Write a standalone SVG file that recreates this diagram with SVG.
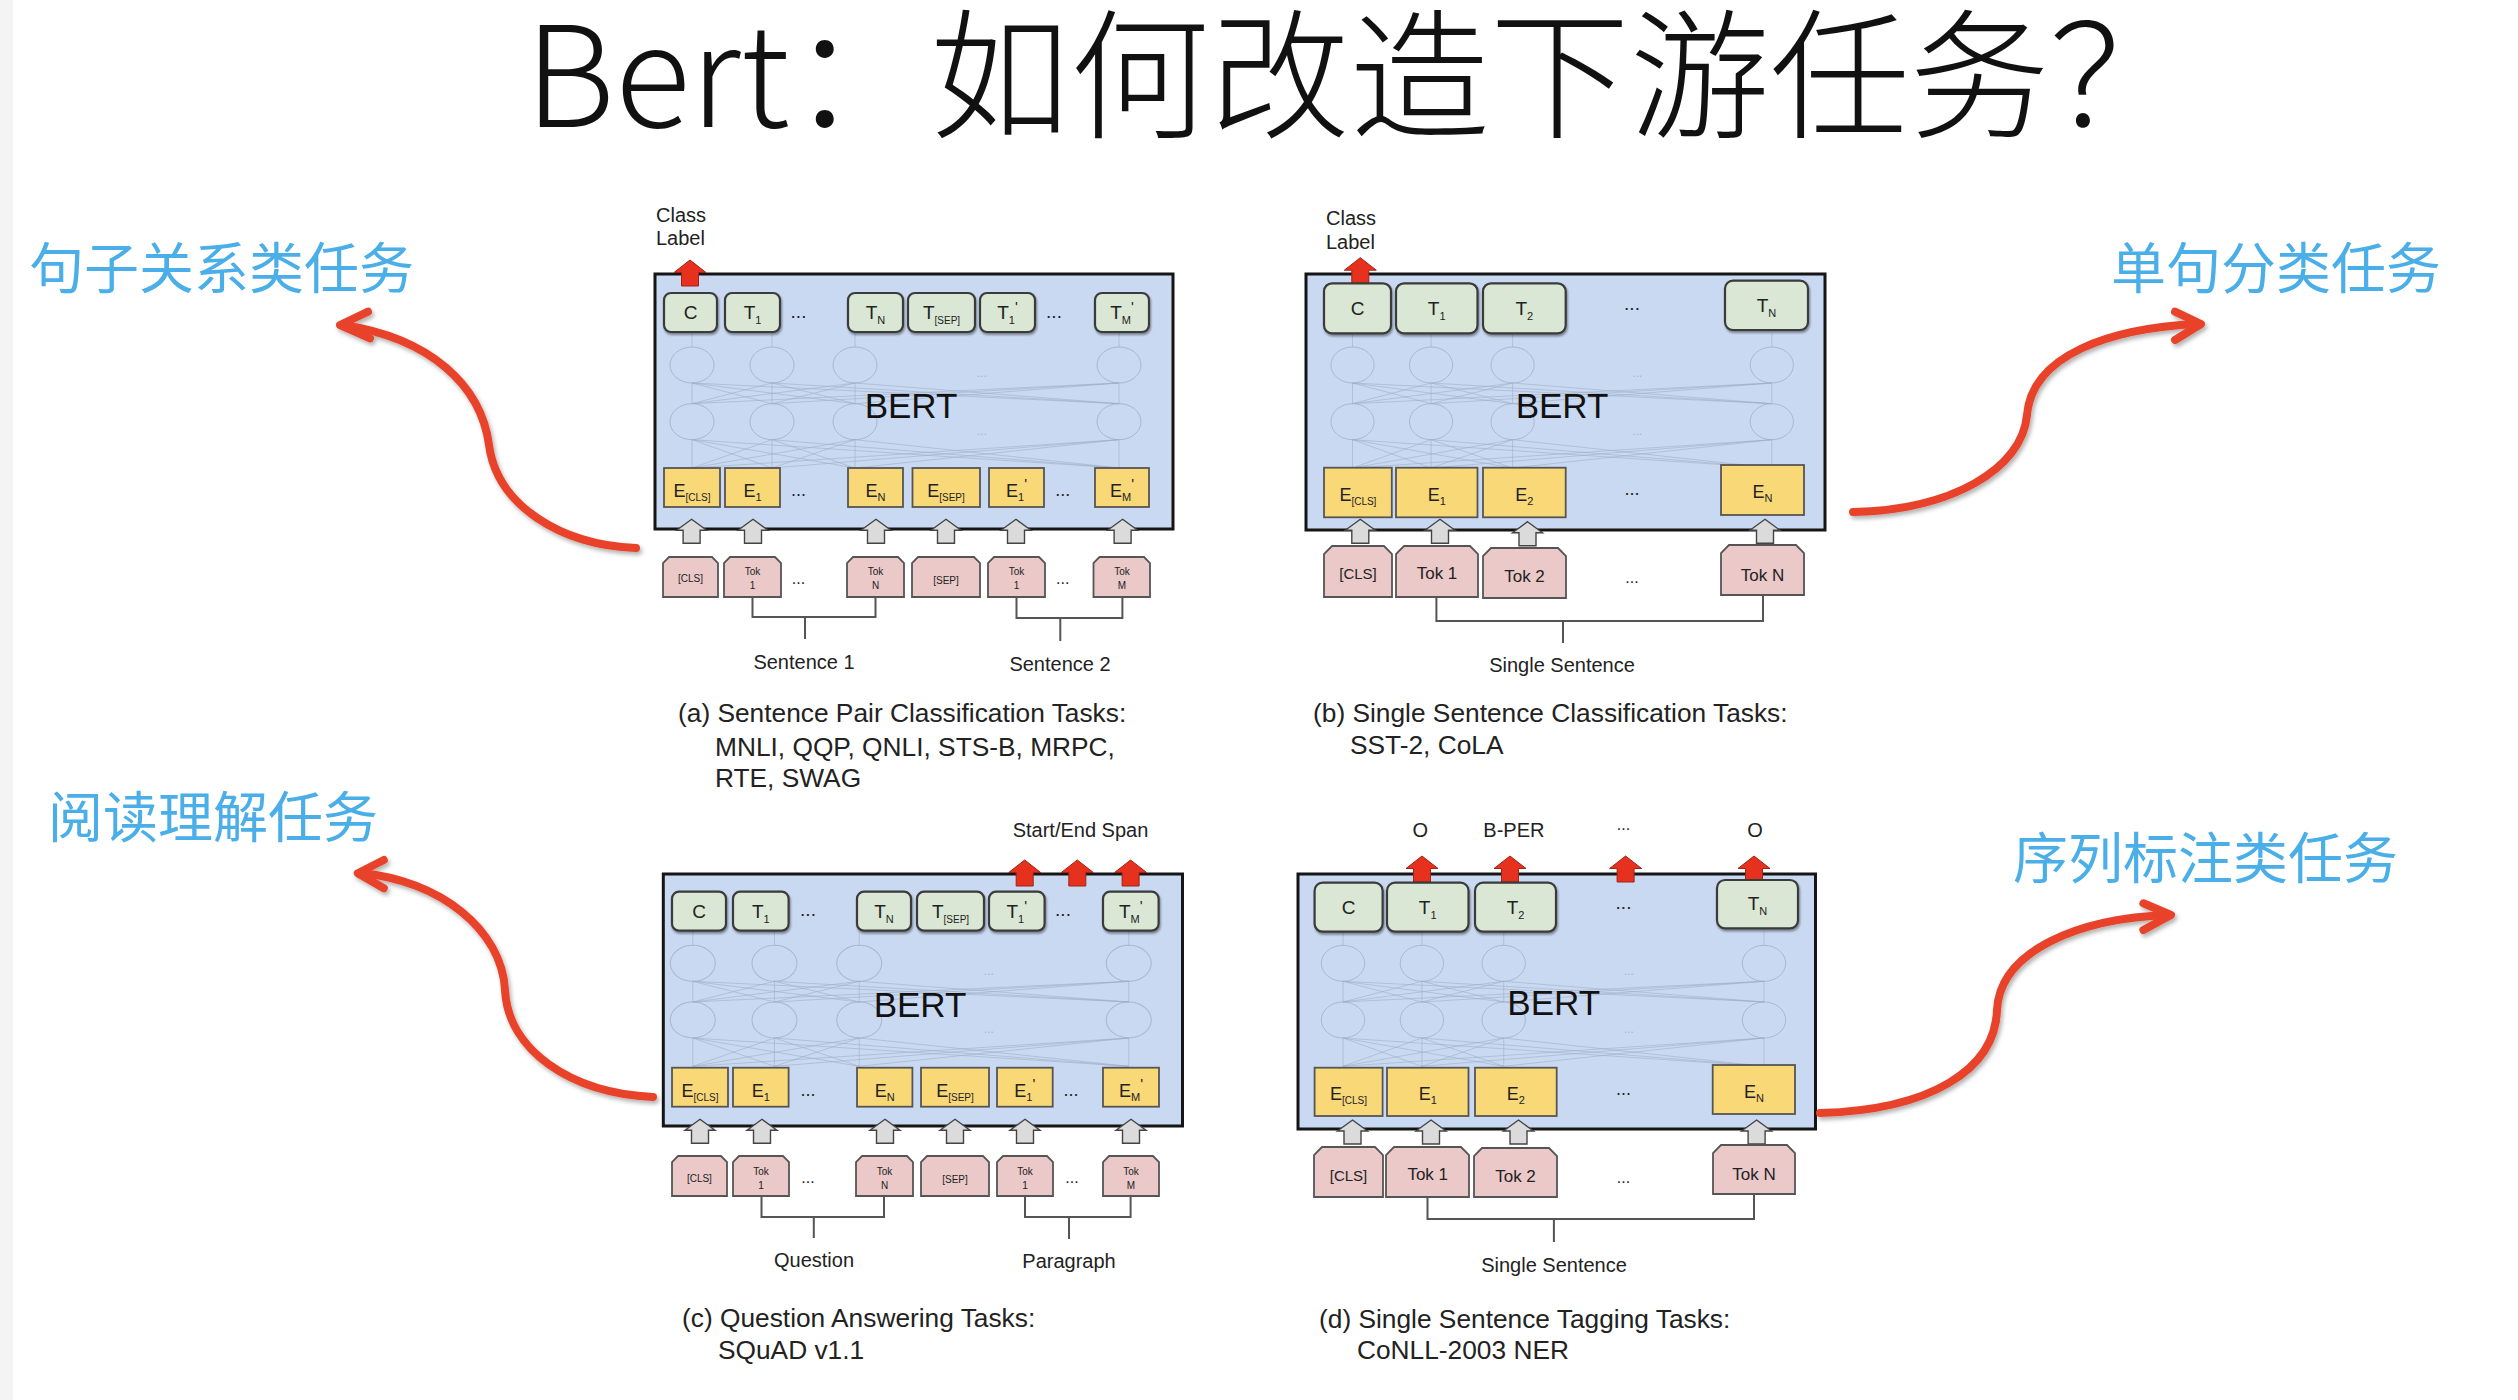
<svg xmlns="http://www.w3.org/2000/svg" xmlns:xlink="http://www.w3.org/1999/xlink" width="2518" height="1400" viewBox="0 0 2518 1400">
<style>
.bert{fill:#C9D9F2;stroke:#151515;stroke-width:3}
.gb{fill:#DAE7D4;stroke:#3a3a3a;stroke-width:2.2}
.yb{fill:#F9D878;stroke:#555;stroke-width:1.8}
.pb{fill:#EBC9C9;stroke:#555;stroke-width:1.8}
.ga{fill:#DBDBDB;stroke:#444;stroke-width:1.4}
.ra{fill:#E5311E;stroke:#a02414;stroke-width:1}
.el{fill:none;stroke:#aab6cd;stroke-width:1}
.nl{fill:none;stroke:#9eabc4;stroke-width:0.8;opacity:0.7}
.t{font-family:"Liberation Sans",Arial,sans-serif;fill:#222}
.bx{font-size:19px;text-anchor:middle}
.ex{font-size:18px;text-anchor:middle}
.sm{font-size:10px;text-anchor:middle}
.tk{font-size:17px;text-anchor:middle}
.lb{font-size:20px}
.mid{text-anchor:middle}
.cap{font-size:26.3px}
.bt{font-size:35px;text-anchor:middle;fill:#111}
.cn{font-family:"Noto Sans CJK SC",sans-serif;fill:#4AAEE8;font-size:55px}
.br{fill:none;stroke:#555;stroke-width:2}
.cv{fill:none;stroke:#E8432A;stroke-width:8;stroke-linecap:round;stroke-linejoin:round}
</style>
<defs>
<filter id="sh" x="-20%" y="-20%" width="140%" height="160%"><feDropShadow dx="1" dy="2" stdDeviation="1" flood-color="#000" flood-opacity="0.4"/></filter>
<filter id="cs" x="-10%" y="-10%" width="120%" height="120%"><feDropShadow dx="2" dy="3" stdDeviation="2" flood-color="#000" flood-opacity="0.3"/></filter>
<path id="redA" class="ra" d="M0 0 L16 12.5 L8.5 12.5 L8.5 26 L-8.5 26 L-8.5 12.5 L-16 12.5 Z"/>
<path id="grayA" class="ga" d="M0 0 L15 11 L8.5 11 L8.5 24 L-8.5 24 L-8.5 11 L-15 11 Z"/>
<g id="net">
<ellipse class="el" cx="0" cy="0" rx="22" ry="18"/><ellipse class="el" cx="80" cy="0" rx="22" ry="18"/><ellipse class="el" cx="163" cy="0" rx="22" ry="18"/><ellipse class="el" cx="427" cy="0" rx="22" ry="18"/>
<ellipse class="el" cx="0" cy="56.7" rx="22" ry="18"/><ellipse class="el" cx="80" cy="56.7" rx="22" ry="18"/><ellipse class="el" cx="163" cy="56.7" rx="22" ry="18"/><ellipse class="el" cx="427" cy="56.7" rx="22" ry="18"/>
<path class="nl" d="M0 -18V-32M80 -18V-32M163 -18V-32M427 -18V-32
M0 38.7L0 18M0 38.7L80 18M0 38.7L163 18M0 38.7L427 18M80 38.7L0 18M80 38.7L80 18M80 38.7L163 18M80 38.7L427 18M163 38.7L0 18M163 38.7L80 18M163 38.7L163 18M163 38.7L427 18M427 38.7L0 18M427 38.7L80 18M427 38.7L163 18M427 38.7L427 18
M0 103L0 74.7M0 103L80 74.7M0 103L163 74.7M0 103L427 74.7M80 103L0 74.7M80 103L80 74.7M80 103L163 74.7M80 103L427 74.7M163 103L0 74.7M163 103L80 74.7M163 103L163 74.7M163 103L427 74.7M427 103L0 74.7M427 103L80 74.7M427 103L163 74.7M427 103L427 74.7"/>
<text class="t" x="290" y="12" font-size="12" text-anchor="middle" style="fill:#a9b3c8">...</text>
<text class="t" x="290" y="70" font-size="12" text-anchor="middle" style="fill:#a9b3c8">...</text>
</g>
</defs>
<rect width="2518" height="1400" fill="#ffffff"/>
<rect x="0" y="0" width="13" height="1400" fill="#f4f4f4"/>

<g id="title"><text x="525" y="127" font-family="'Noto Sans CJK SC',sans-serif" font-weight="300" font-size="140" fill="#111">Bert：如何改造下游任务？</text></g>

<g id="label-a"><text class="cn" x="29" y="288">句子关系类任务</text></g>
<g id="label-b"><text class="cn" x="2111" y="288">单句分类任务</text></g>
<g id="label-c"><text class="cn" x="48" y="837">阅读理解任务</text></g>
<g id="label-d"><text class="cn" x="2013" y="878">序列标注类任务</text></g>

<!-- Panel A -->
<g id="panel-a">
<g id="a-bert"><rect class="bert" x="655" y="274" width="518" height="255"/>
<use xlink:href="#net" transform="translate(692,365)"/>
<text class="t bt" x="911" y="418">BERT</text></g>
<g id="a-classlabel"><text class="t lb" x="656" y="222">Class</text><text class="t lb" x="656" y="245">Label</text><use xlink:href="#redA" x="690" y="260"/></g>
<g id="a-out" filter="url(#sh)">
<rect class="gb" x="664" y="293" width="53" height="39" rx="7"/><rect class="gb" x="725" y="293" width="55" height="39" rx="7"/><rect class="gb" x="848" y="293" width="55" height="39" rx="7"/><rect class="gb" x="908" y="293" width="67" height="39" rx="7"/><rect class="gb" x="980" y="293" width="55" height="39" rx="7"/><rect class="gb" x="1095" y="293" width="54" height="39" rx="7"/></g>
<g id="a-out-text">
<text class="t bx" x="690.5" y="319">C</text>
<text class="t bx" x="752.5" y="319">T<tspan font-size="11" dy="5">1</tspan></text>
<text class="t bx" x="798.5" y="318" font-size="16">...</text>
<text class="t bx" x="875.5" y="319">T<tspan font-size="11" dy="5">N</tspan></text>
<text class="t bx" x="941.5" y="319">T<tspan font-size="10" dy="5">[SEP]</tspan></text>
<text class="t bx" x="1007.5" y="319">T<tspan font-size="11" dy="5">1</tspan><tspan font-size="15" dy="-12">'</tspan></text>
<text class="t bx" x="1054" y="318" font-size="16">...</text>
<text class="t bx" x="1122" y="319">T<tspan font-size="11" dy="5">M</tspan><tspan font-size="15" dy="-12">'</tspan></text></g>
<g id="a-emb">
<rect class="yb" x="664" y="468" width="56" height="39"/><rect class="yb" x="725" y="468" width="55" height="39"/><rect class="yb" x="848" y="468" width="55" height="39"/><rect class="yb" x="912.5" y="468" width="67.5" height="39"/><rect class="yb" x="989" y="468" width="55" height="39"/><rect class="yb" x="1095" y="468" width="54" height="39"/>
<text class="t ex" x="692" y="497">E<tspan font-size="10" dy="4">[CLS]</tspan></text>
<text class="t ex" x="752.5" y="497">E<tspan font-size="11" dy="4">1</tspan></text>
<text class="t ex" x="798.5" y="496" font-size="16">...</text>
<text class="t ex" x="875.5" y="497">E<tspan font-size="11" dy="4">N</tspan></text>
<text class="t ex" x="946" y="497">E<tspan font-size="10" dy="4">[SEP]</tspan></text>
<text class="t ex" x="1016.5" y="497">E<tspan font-size="11" dy="4">1</tspan><tspan font-size="15" dy="-12">'</tspan></text>
<text class="t ex" x="1062.7" y="496" font-size="16">...</text>
<text class="t ex" x="1122" y="497">E<tspan font-size="11" dy="4">M</tspan><tspan font-size="15" dy="-12">'</tspan></text></g>
<g id="a-arrows"><use xlink:href="#grayA" x="691.6" y="519.3"/><use xlink:href="#grayA" x="753" y="519.3"/><use xlink:href="#grayA" x="876" y="519.3"/><use xlink:href="#grayA" x="946" y="519.3"/><use xlink:href="#grayA" x="1016" y="519.3"/><use xlink:href="#grayA" x="1122.6" y="519.3"/></g>
<g id="a-tok">
<path class="pb" d="M663 597V563L669 557H712L718 563V597Z"/><path class="pb" d="M724 597V563L730 557H775L781 563V597Z"/><path class="pb" d="M847 597V563L853 557H898L904 563V597Z"/><path class="pb" d="M912 597V563L918 557H974L980 563V597Z"/><path class="pb" d="M988 597V563L994 557H1039L1045 563V597Z"/><path class="pb" d="M1093.5 597V563L1099.5 557H1144L1150 563V597Z"/>
<text class="t sm" x="690.5" y="582">[CLS]</text>
<text class="t sm" x="752.5" y="575">Tok</text><text class="t sm" x="752.5" y="589">1</text>
<text class="t mid" x="798.5" y="584" font-size="16">...</text>
<text class="t sm" x="875.5" y="575">Tok</text><text class="t sm" x="875.5" y="589">N</text>
<text class="t sm" x="946" y="584">[SEP]</text>
<text class="t sm" x="1016.5" y="575">Tok</text><text class="t sm" x="1016.5" y="589">1</text>
<text class="t mid" x="1062.7" y="584" font-size="16">...</text>
<text class="t sm" x="1122" y="575">Tok</text><text class="t sm" x="1122" y="589">M</text></g>
<g id="a-text">
<text class="t lb mid" x="804" y="669">Sentence 1</text>
<text class="t lb mid" x="1060" y="671">Sentence 2</text>
<text class="t cap" x="678" y="722">(a) Sentence Pair Classification Tasks:</text>
<text class="t cap" x="715" y="756">MNLI, QQP, QNLI, STS-B, MRPC,</text>
<text class="t cap" x="715" y="787">RTE, SWAG</text></g>
</g>

<!-- Panel B -->
<g id="panel-b">
<g id="b-bert"><rect class="bert" x="1306" y="274" width="519" height="256"/>
<use xlink:href="#net" transform="translate(1352.5,365) scale(0.982,1)"/>
<text class="t bt" x="1562" y="418">BERT</text></g>
<g id="b-classlabel"><text class="t lb" x="1326" y="225">Class</text><text class="t lb" x="1326" y="249">Label</text><use xlink:href="#redA" x="1360.3" y="257.7"/></g>
<g id="b-out" filter="url(#sh)">
<rect class="gb" x="1324" y="283.3" width="67" height="50" rx="8"/><rect class="gb" x="1396" y="283.3" width="81.5" height="50" rx="8"/><rect class="gb" x="1483" y="283.3" width="82.7" height="50" rx="8"/><rect class="gb" x="1725" y="280.7" width="83" height="49.3" rx="8"/></g>
<g id="b-out-text">
<text class="t bx" x="1357.5" y="315">C</text>
<text class="t bx" x="1436.7" y="315">T<tspan font-size="11" dy="5">1</tspan></text>
<text class="t bx" x="1524.3" y="315">T<tspan font-size="11" dy="5">2</tspan></text>
<text class="t bx" x="1632" y="310" font-size="16">...</text>
<text class="t bx" x="1766.5" y="312">T<tspan font-size="11" dy="5">N</tspan></text></g>
<g id="b-emb">
<rect class="yb" x="1324" y="467.7" width="67.8" height="49.6"/><rect class="yb" x="1396" y="467.7" width="81.5" height="49.6"/><rect class="yb" x="1483" y="467.7" width="82.7" height="49.6"/><rect class="yb" x="1721" y="465" width="83" height="50"/>
<text class="t ex" x="1357.9" y="501">E<tspan font-size="10" dy="4">[CLS]</tspan></text>
<text class="t ex" x="1436.7" y="501">E<tspan font-size="11" dy="4">1</tspan></text>
<text class="t ex" x="1524.3" y="501">E<tspan font-size="11" dy="4">2</tspan></text>
<text class="t ex" x="1632" y="495" font-size="16">...</text>
<text class="t ex" x="1762.5" y="498">E<tspan font-size="11" dy="4">N</tspan></text></g>
<g id="b-arrows"><use xlink:href="#grayA" x="1360.3" y="519.3"/><use xlink:href="#grayA" x="1440" y="519.3"/><use xlink:href="#grayA" x="1527.5" y="521.7"/><use xlink:href="#grayA" x="1765" y="519.3"/></g>
<g id="b-tok">
<path class="pb" d="M1324 597V554L1332 546H1384L1392 554V597Z"/><path class="pb" d="M1396 597V554L1404 546H1470L1478 554V597Z"/><path class="pb" d="M1483 598V556L1491 548H1558L1566 556V598Z"/><path class="pb" d="M1721 595V553L1729 545H1796L1804 553V595Z"/>
<text class="t mid" font-size="15" x="1358" y="579">[CLS]</text>
<text class="t tk" x="1437" y="579">Tok 1</text>
<text class="t tk" x="1524.5" y="582">Tok 2</text>
<text class="t mid" x="1632" y="583" font-size="16">...</text>
<text class="t tk" x="1762.5" y="581">Tok N</text></g>
<g id="b-text">
<text class="t lb mid" x="1562" y="672">Single Sentence</text>
<text class="t cap" x="1313" y="722">(b) Single Sentence Classification Tasks:</text>
<text class="t cap" x="1350" y="754">SST-2, CoLA</text></g>
</g>

<!-- Panel C -->
<g id="panel-c">
<g id="c-bert"><rect class="bert" x="663.3" y="874" width="519.2" height="252"/>
<use xlink:href="#net" transform="translate(692.8,963.3) scale(1.021,1)"/>
<text class="t bt" x="920" y="1017">BERT</text></g>
<g id="c-span"><text class="t lb mid" x="1080.5" y="837">Start/End Span</text>
<use xlink:href="#redA" x="1024.7" y="860"/><use xlink:href="#redA" x="1077.3" y="860"/><use xlink:href="#redA" x="1130.6" y="860"/></g>
<g id="c-out" filter="url(#sh)">
<rect class="gb" x="672" y="891.7" width="54" height="39" rx="7"/><rect class="gb" x="733" y="891.7" width="55.6" height="39" rx="7"/><rect class="gb" x="857" y="891.7" width="54" height="39" rx="7"/><rect class="gb" x="917" y="891.7" width="67" height="39" rx="7"/><rect class="gb" x="989" y="891.7" width="55.6" height="39" rx="7"/><rect class="gb" x="1103" y="891.7" width="55.6" height="39" rx="7"/></g>
<g id="c-out-text">
<text class="t bx" x="699" y="917.5">C</text>
<text class="t bx" x="760.8" y="917.5">T<tspan font-size="11" dy="5">1</tspan></text>
<text class="t bx" x="808" y="916" font-size="16">...</text>
<text class="t bx" x="884" y="917.5">T<tspan font-size="11" dy="5">N</tspan></text>
<text class="t bx" x="950.5" y="917.5">T<tspan font-size="10" dy="5">[SEP]</tspan></text>
<text class="t bx" x="1016.8" y="917.5">T<tspan font-size="11" dy="5">1</tspan><tspan font-size="15" dy="-12">'</tspan></text>
<text class="t bx" x="1063" y="916" font-size="16">...</text>
<text class="t bx" x="1130.8" y="917.5">T<tspan font-size="11" dy="5">M</tspan><tspan font-size="15" dy="-12">'</tspan></text></g>
<g id="c-emb">
<rect class="yb" x="672" y="1067.7" width="56" height="39"/><rect class="yb" x="733" y="1067.7" width="55.6" height="39"/><rect class="yb" x="857" y="1067.7" width="55.4" height="39"/><rect class="yb" x="921" y="1067.7" width="68" height="39"/><rect class="yb" x="997" y="1067.7" width="55.7" height="39"/><rect class="yb" x="1103" y="1067.7" width="56" height="39"/>
<text class="t ex" x="700" y="1097">E<tspan font-size="10" dy="4">[CLS]</tspan></text>
<text class="t ex" x="760.8" y="1097">E<tspan font-size="11" dy="4">1</tspan></text>
<text class="t ex" x="808" y="1096" font-size="16">...</text>
<text class="t ex" x="884.7" y="1097">E<tspan font-size="11" dy="4">N</tspan></text>
<text class="t ex" x="955" y="1097">E<tspan font-size="10" dy="4">[SEP]</tspan></text>
<text class="t ex" x="1024.8" y="1097">E<tspan font-size="11" dy="4">1</tspan><tspan font-size="15" dy="-12">'</tspan></text>
<text class="t ex" x="1071" y="1096" font-size="16">...</text>
<text class="t ex" x="1131" y="1097">E<tspan font-size="11" dy="4">M</tspan><tspan font-size="15" dy="-12">'</tspan></text></g>
<g id="c-arrows"><use xlink:href="#grayA" x="700" y="1119.3"/><use xlink:href="#grayA" x="762" y="1119.3"/><use xlink:href="#grayA" x="885" y="1119.3"/><use xlink:href="#grayA" x="955" y="1119.3"/><use xlink:href="#grayA" x="1025" y="1119.3"/><use xlink:href="#grayA" x="1131" y="1119.3"/></g>
<g id="c-tok">
<path class="pb" d="M672 1196V1162L678 1156H721L727 1162V1196Z"/><path class="pb" d="M733 1196V1162L739 1156H783L789 1162V1196Z"/><path class="pb" d="M856 1196V1162L862 1156H907L913 1162V1196Z"/><path class="pb" d="M921 1196V1162L927 1156H983L989 1162V1196Z"/><path class="pb" d="M997 1196V1162L1003 1156H1047L1053 1162V1196Z"/><path class="pb" d="M1103 1196V1162L1109 1156H1153L1159 1162V1196Z"/>
<text class="t sm" x="699.4" y="1181.7">[CLS]</text>
<text class="t sm" x="761" y="1174.5">Tok</text><text class="t sm" x="761" y="1188.5">1</text>
<text class="t mid" x="808" y="1183" font-size="16">...</text>
<text class="t sm" x="884.5" y="1174.5">Tok</text><text class="t sm" x="884.5" y="1188.5">N</text>
<text class="t sm" x="955" y="1183">[SEP]</text>
<text class="t sm" x="1025" y="1174.5">Tok</text><text class="t sm" x="1025" y="1188.5">1</text>
<text class="t mid" x="1072" y="1183" font-size="16">...</text>
<text class="t sm" x="1131" y="1174.5">Tok</text><text class="t sm" x="1131" y="1188.5">M</text></g>
<g id="c-text">
<text class="t lb mid" x="814" y="1267">Question</text>
<text class="t lb mid" x="1069" y="1268">Paragraph</text>
<text class="t cap" x="682" y="1327">(c) Question Answering Tasks:</text>
<text class="t cap" x="718" y="1359">SQuAD v1.1</text></g>
</g>

<!-- Panel D -->
<g id="panel-d">
<g id="d-bert"><rect class="bert" x="1298" y="874" width="517.5" height="255"/>
<use xlink:href="#net" transform="translate(1343,963.3) scale(0.986,1)"/>
<text class="t bt" x="1553.7" y="1015">BERT</text></g>
<g id="d-tags"><text class="t lb mid" x="1420.3" y="837">O</text><text class="t lb mid" x="1513.9" y="837">B-PER</text><text class="t mid" font-size="16" x="1623.5" y="830">...</text><text class="t lb mid" x="1755" y="837">O</text>
<use xlink:href="#redA" x="1422" y="856"/><use xlink:href="#redA" x="1510" y="856"/><use xlink:href="#redA" x="1625.6" y="856"/><use xlink:href="#redA" x="1754" y="856"/></g>
<g id="d-out" filter="url(#sh)">
<rect class="gb" x="1314.6" y="882.7" width="68" height="49" rx="8"/><rect class="gb" x="1387" y="882.7" width="81.5" height="49" rx="8"/><rect class="gb" x="1475" y="882.7" width="81" height="49" rx="8"/><rect class="gb" x="1717" y="880" width="81" height="48.3" rx="8"/></g>
<g id="d-out-text">
<text class="t bx" x="1348.5" y="913.5">C</text>
<text class="t bx" x="1427.7" y="913.5">T<tspan font-size="11" dy="5">1</tspan></text>
<text class="t bx" x="1515.5" y="913.5">T<tspan font-size="11" dy="5">2</tspan></text>
<text class="t bx" x="1623.5" y="909" font-size="16">...</text>
<text class="t bx" x="1757.5" y="910">T<tspan font-size="11" dy="5">N</tspan></text></g>
<g id="d-emb">
<rect class="yb" x="1314.6" y="1067.7" width="68" height="48.3"/><rect class="yb" x="1387" y="1067.7" width="81.5" height="48.3"/><rect class="yb" x="1475" y="1067.7" width="81.7" height="48.3"/><rect class="yb" x="1712.7" y="1065" width="82.3" height="49"/>
<text class="t ex" x="1348.5" y="1100">E<tspan font-size="10" dy="4">[CLS]</tspan></text>
<text class="t ex" x="1427.7" y="1100">E<tspan font-size="11" dy="4">1</tspan></text>
<text class="t ex" x="1515.8" y="1100">E<tspan font-size="11" dy="4">2</tspan></text>
<text class="t ex" x="1623.5" y="1095" font-size="16">...</text>
<text class="t ex" x="1754" y="1098">E<tspan font-size="11" dy="4">N</tspan></text></g>
<g id="d-arrows"><use xlink:href="#grayA" x="1352.5" y="1120"/><use xlink:href="#grayA" x="1431" y="1120"/><use xlink:href="#grayA" x="1518.5" y="1120"/><use xlink:href="#grayA" x="1756.6" y="1120"/></g>
<g id="d-tok">
<path class="pb" d="M1314 1197V1155L1322 1147H1375L1383 1155V1197Z"/><path class="pb" d="M1386 1197V1155L1394 1147H1461L1469 1155V1197Z"/><path class="pb" d="M1474 1197V1156L1482 1148H1549L1557 1156V1197Z"/><path class="pb" d="M1713 1194V1153L1721 1145H1787L1795 1153V1194Z"/>
<text class="t mid" font-size="15" x="1348.5" y="1181">[CLS]</text>
<text class="t tk" x="1427.7" y="1180">Tok 1</text>
<text class="t tk" x="1515.5" y="1182">Tok 2</text>
<text class="t mid" x="1623.5" y="1183" font-size="16">...</text>
<text class="t tk" x="1754" y="1180">Tok N</text></g>
<g id="d-text">
<text class="t lb mid" x="1554" y="1272">Single Sentence</text>
<text class="t cap" x="1319" y="1328">(d) Single Sentence Tagging Tasks:</text>
<text class="t cap" x="1357" y="1359">CoNLL-2003 NER</text></g>
</g>

<g id="connectors">
<path class="br" d="M752.5 597V617H875.5V597M805 617V639"/>
<path class="br" d="M1016.5 597V618H1122.4V597M1060.3 618V641"/>
<path class="br" d="M1436.4 597V621H1763V595M1563 621V643"/>
<path class="br" d="M761.5 1196V1217H884V1196M813.8 1217V1238"/>
<path class="br" d="M1025 1196V1217H1130.6V1196M1069 1217V1239"/>
<path class="br" d="M1427.5 1197V1219H1754V1194M1553.9 1219V1242"/>
<g filter="url(#cs)">
<path class="cv" d="M636 548C560 545 497 505 489 445C481 385 430 338 343 325"/>
<path class="cv" d="M368 311.7L340 325L370 338.3"/>
<path class="cv" d="M1853 512C1950 510 2022 470 2027 415C2032 355 2110 328 2198 324"/>
<path class="cv" d="M2175 311.7L2201 324L2175 340"/>
<path class="cv" d="M653 1097C570 1093 508 1050 505 990C502 930 440 880 360 873"/>
<path class="cv" d="M383.8 860L357.8 873.3L383.8 888.3"/>
<path class="cv" d="M1820 1113C1930 1110 1995 1070 1997 1010C2000 950 2080 918 2169 915"/>
<path class="cv" d="M2143.4 903.3L2171 915L2143.4 930"/>
</g>
</g>
</svg>
